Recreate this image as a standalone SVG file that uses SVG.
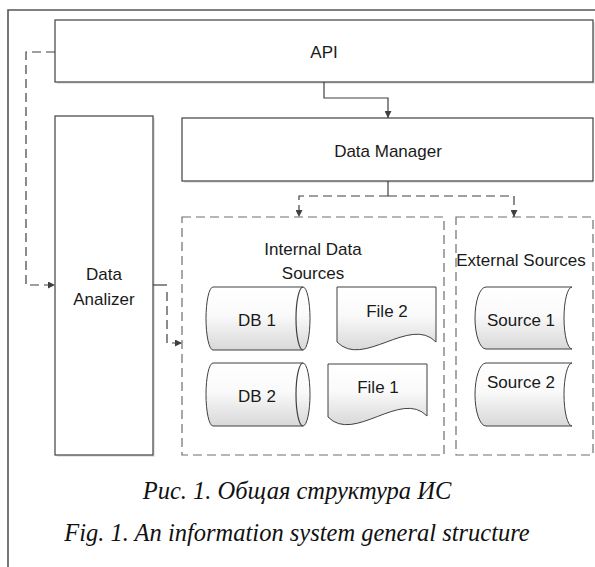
<svg xmlns="http://www.w3.org/2000/svg" width="595" height="567" viewBox="0 0 595 567">
<style>
.box{fill:#fff;stroke:#404040;stroke-width:1.2}
.shadow{fill:#e6e6e6}
.grp{fill:none;stroke:#6e6e6e;stroke-width:1.2;stroke-dasharray:9 5}
.shape{fill:url(#g);stroke:#404040;stroke-width:1}
.t{font-family:"Liberation Sans",Arial,sans-serif;font-size:17px;fill:#1a1a1a;text-anchor:middle}
.cap{font-family:"Liberation Serif","Times New Roman",serif;font-style:italic;font-size:24.5px;fill:#111;text-anchor:middle}
.c{fill:none;stroke:#404040;stroke-width:1.2}
.d{stroke-dasharray:9 5}
</style>
<defs>
<linearGradient id="g" x1="0" y1="0" x2="0" y2="1">
<stop offset="0" stop-color="#ffffff"/>
<stop offset="0.45" stop-color="#fafafa"/>
<stop offset="1" stop-color="#d8d8d8"/>
</linearGradient>
<marker id="a" viewBox="0 0 10 10" refX="10" refY="5" markerWidth="7" markerHeight="7" markerUnits="userSpaceOnUse" orient="auto">
<path d="M0,0 L10,5 L0,10 Z" fill="#404040"/>
</marker>
</defs>
<path d="M8,567 V10 H595" fill="none" stroke="#555" stroke-width="1.6"/>
<g id="api">
<rect class="shadow" x="57" y="22" width="538" height="62"/>
<rect class="box" x="55" y="20" width="538" height="62"/>
<text class="t" x="324" y="58">API</text>
</g>
<g id="data-analizer">
<rect class="shadow" x="57" y="118" width="98" height="339"/>
<rect class="box" x="55" y="116" width="98" height="339"/>
<text class="t" x="104" y="280">Data</text>
<text class="t" x="104" y="305">Analizer</text>
</g>
<g id="data-manager">
<rect class="shadow" x="184" y="120" width="409" height="63"/>
<rect class="box" x="182" y="118" width="411" height="63"/>
<text class="t" x="388" y="157">Data Manager</text>
</g>
<g id="internal-sources">
<rect class="grp" x="182" y="217" width="262" height="238"/>
<text class="t" x="313" y="255">Internal Data</text>
<text class="t" x="313" y="279">Sources</text>
</g>
<g id="external-sources">
<rect class="grp" x="456" y="217" width="137" height="238"/>
<text class="t" x="521" y="266">External Sources</text>
</g>
<g id="db1">
<path class="shape" d="M213,287 L303,287 A7,31.5 0 0 1 303,350 L213,350 A7,31.5 0 0 1 213,287 Z"/>
<path class="c" stroke-width="1" d="M303,287 A7,31.5 0 0 0 303,350"/>
<text class="t" x="257" y="326">DB 1</text>
</g>
<g id="db2">
<path class="shape" d="M213,363 L303,363 A7,31.5 0 0 1 303,426 L213,426 A7,31.5 0 0 1 213,363 Z"/>
<path class="c" stroke-width="1" d="M303,363 A7,31.5 0 0 0 303,426"/>
<text class="t" x="257" y="402">DB 2</text>
</g>
<g id="file2">
<path class="shape" d="M337,287 H436 V342 C410,315 363,369 337,342 Z"/>
<text class="t" x="387" y="317">File 2</text>
</g>
<g id="file1">
<path class="shape" d="M328,364 H427 V416 C401,389 354,444 328,417 Z"/>
<text class="t" x="378" y="393">File 1</text>
</g>
<g id="source1">
<path class="shape" d="M486,287 H572 A8,31 0 0 0 572,349 H486 A11,31 0 0 1 486,287 Z"/>
<text class="t" x="521" y="326">Source 1</text>
</g>
<g id="source2">
<path class="shape" d="M486,363 H572 A8,31.5 0 0 0 572,426 H486 A11,31.5 0 0 1 486,363 Z"/>
<text class="t" x="521" y="388">Source 2</text>
</g>
<g id="connectors">
<path class="c" d="M324,82 V98 H388 V118" marker-end="url(#a)"/>
<path class="c" d="M388,181 V196"/>
<path class="c d" d="M388,196 H299 V217" marker-end="url(#a)"/>
<path class="c d" d="M388,196 H514 V217" marker-end="url(#a)"/>
<path class="c d" d="M55,52 H26 V285 H55" marker-end="url(#a)"/>
<path class="c" d="M153,285 H167"/>
<path class="c d" d="M167,292 V343 H182" marker-end="url(#a)"/>
</g>
<g id="caption">
<text class="cap" x="297" y="499">Рис. 1. Общая структура ИС</text>
<text class="cap" x="297" y="541">Fig. 1. An information system general structure</text>
</g>
</svg>
